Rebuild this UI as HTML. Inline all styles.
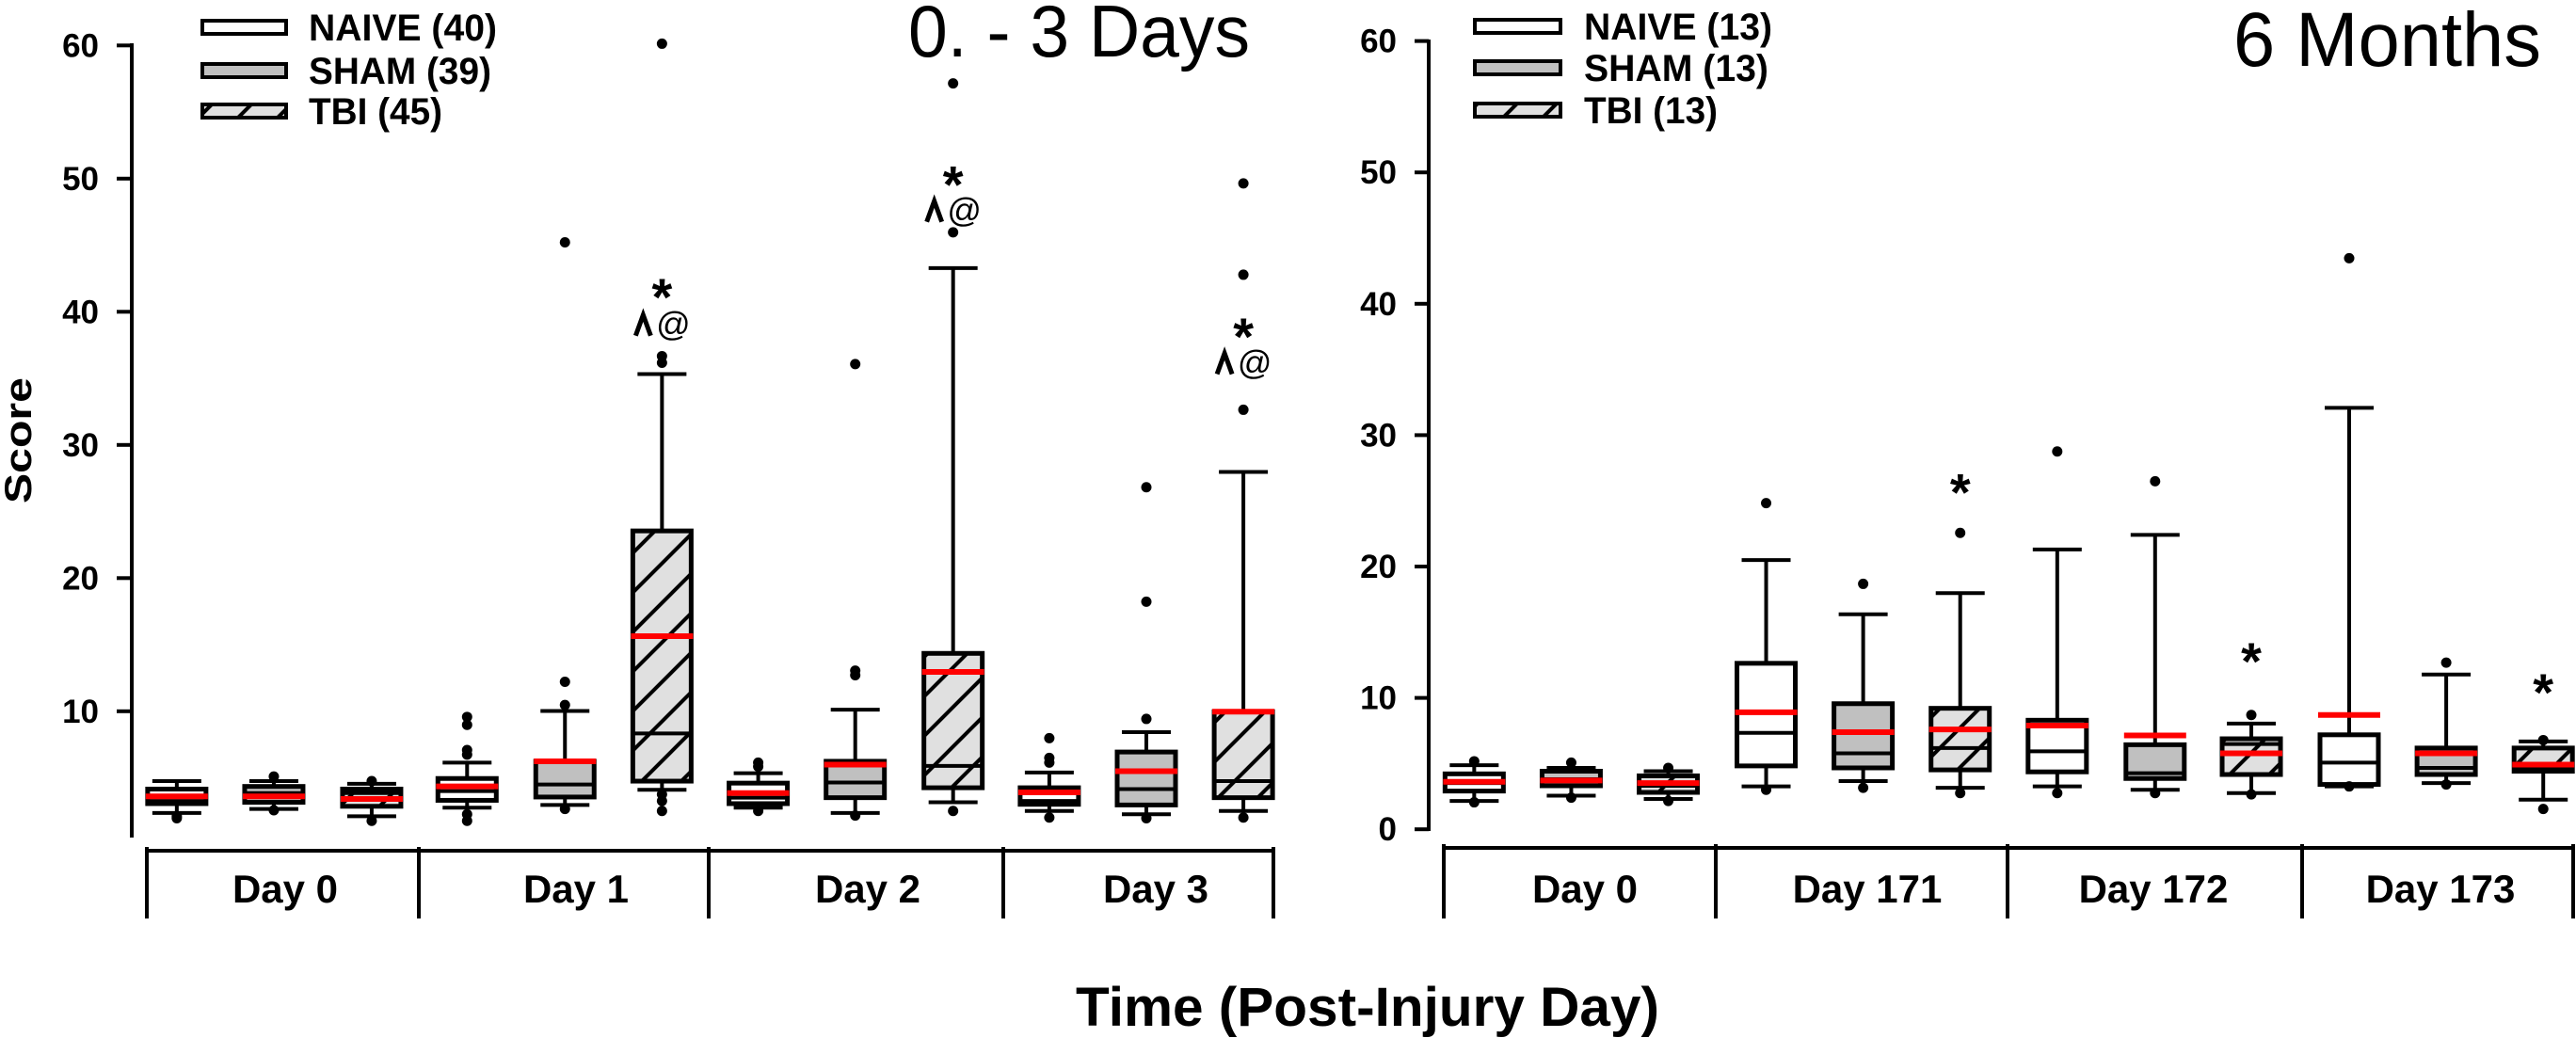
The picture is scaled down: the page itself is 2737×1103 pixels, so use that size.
<!DOCTYPE html>
<html><head><meta charset="utf-8"><style>html,body{margin:0;padding:0;background:#fff}svg{display:block}</style></head>
<body>
<svg id="s" xmlns="http://www.w3.org/2000/svg" width="2737" height="1103" viewBox="0 0 2737 1103">
<defs>
<pattern id="h" patternUnits="userSpaceOnUse" width="42" height="42" patternTransform="rotate(0)">
<rect width="42" height="42" fill="#e0e0e0"/>
<path d="M-5,47 L47,-5" stroke="#000" stroke-width="4"/>
<path d="M-26,26 L26,-26 M16,68 L68,16" stroke="#000" stroke-width="4"/>
</pattern>
</defs>
</svg>
<script>
const S=document.getElementById('s');const NS='http://www.w3.org/2000/svg';
function el(t,a,txt){const e=document.createElementNS(NS,t);for(const k in a)e.setAttribute(k,a[k]);if(txt!=null)e.textContent=txt;S.appendChild(e);return e;}
const HF=1.1445,VF=1.4216;
const F='Liberation Sans, Arial, sans-serif';
function yL(v){return 48.3+(60-v)*14.15;}
el('line',{x1:140,y1:46,x2:140,y2:890,stroke:'#000','stroke-width':4});
for(let v=10;v<=60;v+=10){const y=yL(v);el('line',{x1:124,y1:y,x2:140,y2:y,stroke:'#000','stroke-width':4});
el('text',{x:105,y:y+12,'font-family':F,'font-size':35,'font-weight':'bold','text-anchor':'end'},String(v));}
function yR(v){return 43.6+(60-v)*13.96;}
el('line',{x1:1518,y1:42,x2:1518,y2:883,stroke:'#000','stroke-width':4});
for(let v=0;v<=60;v+=10){const y=yR(v);el('line',{x1:1503,y1:y,x2:1518,y2:y,stroke:'#000','stroke-width':4});
el('text',{x:1484,y:y+12,'font-family':F,'font-size':35,'font-weight':'bold','text-anchor':'end'},String(v));}
function cat(y,x0,x1,divs,labels,centers){
 el('line',{x1:x0,y1:y,x2:x1,y2:y,stroke:'#000','stroke-width':4});
 [x0,...divs,x1].forEach(x=>el('line',{x1:x,y1:y-4,x2:x,y2:976,stroke:'#000','stroke-width':4}));
 labels.forEach((l,i)=>el('text',{x:centers[i],y:959,'font-family':F,'font-size':42,'font-weight':'bold','text-anchor':'middle'},l));
}
cat(904,156,1353,[445,753,1066],['Day 0','Day 1','Day 2','Day 3'],[303,612,922,1228]);
cat(901,1534,2734,[1823,2133,2446],['Day 0','Day 171','Day 172','Day 173'],[1684,1984,2288,2593]);
const L=[
[215,1180,1192,1210,1203,1214,1228,[1233,1236],0],
[333,1180,1188,1198,1203,1212,1222,[1173,1224],1],
[452,1184,1192,1198,1207,1218,1233,[1180,1240],2],
[568,1152,1176,1195,1188,1209,1220,[1083,1095,1133,1140,1230,1240],0],
[687,1074,1150,1185,1150,1204,1216,[366,1030,1065,1222],1],
[805,565,802,1108,961,1180,1193,[66,538,548,1200,1210,1225],2],
[922,1168,1183,1205,1198,1214,1220,[1152,1158,1225],0],
[1040,1072,1150,1182,1155,1205,1228,[550,1013,1020,1232],1],
[1159,405,987,1157,1015,1190,1212,[126,351,1225],2],
[1276,1167,1190,1210,1197,1215,1225,[1115,1145,1152,1235],0],
[1394,1106,1136,1192,1165,1216,1230,[736,909,1086,1236],1],
[1512,713,1075,1180,1075,1205,1225,[277,415,619,1235],2]];
const R=[
[227,1156,1169,1183,1181,1195,1210,[1150,1212],0],
[345,1160,1165,1177,1179,1187,1202,[1152,1205],1],
[463,1165,1172,1187,1183,1197,1207,[1160,1210],2],
[582,846,1002,1107,1076,1157,1188,[760,1193],0],
[700,928,1063,1138,1106,1160,1180,[882,1190],1],
[818,896,1070,1130,1102,1163,1190,[805,1198],2],
[936,830,1088,1135,1096,1166,1188,[682,1198],0],
[1055,808,1125,1168,1111,1176,1193,[727,1198],1],
[1172,1093,1116,1124,1138,1170,1198,[1080,1200],2],
[1291,616,1110,1152,1080,1185,1188,[390,1188],0],
[1409,1019,1130,1160,1138,1170,1183,[1001,1185],1],
[1527,1120,1130,1160,1155,1165,1208,[1118,1222],2]];
const fills=['#fff','#c0c0c0','url(#h)'];
function draw(b,off){
 const cx=b[0]/HF+off,Y=v=>v/VF;
 const wT=Y(b[1]),bT=Y(b[2]),md=Y(b[3]),rd=Y(b[4]),bB=Y(b[5]),wB=Y(b[6]);
 el('line',{x1:cx,y1:wT,x2:cx,y2:wB,stroke:'#000','stroke-width':4});
 el('line',{x1:cx-26,y1:wT,x2:cx+26,y2:wT,stroke:'#000','stroke-width':4});
 el('line',{x1:cx-26,y1:wB,x2:cx+26,y2:wB,stroke:'#000','stroke-width':4});
 el('rect',{x:cx-31,y:bT,width:62,height:Math.max(bB-bT,2),fill:fills[b[8]],stroke:'#000','stroke-width':5});
 el('line',{x1:cx-31,y1:md,x2:cx+31,y2:md,stroke:'#000','stroke-width':4});
 el('line',{x1:cx-33,y1:rd,x2:cx+33,y2:rd,stroke:'#f00','stroke-width':6});
 b[7].forEach(o=>el('circle',{cx:cx,cy:Y(o),r:5.5,fill:'#000'}));
}
L.forEach(b=>draw(b,0));R.forEach(b=>draw(b,1368));
function ann(x,ys,yc){
 el('text',{x:x,y:ys+22,'font-family':F,'font-size':56,'font-weight':'bold','text-anchor':'middle'},'*');
 if(yc!=null){
 el('path',{d:`M${x-28},${yc+12} L${x-20},${yc-10} L${x-12},${yc+12}`,fill:'none',stroke:'#000','stroke-width':5});
 el('text',{x:x+12,y:yc+12,'font-family':F,'font-size':36,'text-anchor':'middle'},'@');}
}
ann(805/HF,445/VF,490/VF);ann(1159/HF,275/VF,318/VF);ann(1512/HF,505/VF,548/VF);
ann(1368+818/HF,740/VF);ann(1368+1172/HF,995/VF);ann(1368+1527/HF,1042/VF);
function leg(x0,x1,tx,rows,labels,tlen){
 rows.forEach((y,i)=>{el('rect',{x:x0,y:y-7,width:x1-x0,height:14,fill:fills[i],stroke:'#000','stroke-width':4});
 el('text',{x:tx,y:y+14,'font-family':F,'font-size':40,'font-weight':'bold',textLength:tlen[i],lengthAdjust:'spacingAndGlyphs'},labels[i]);});
}
leg(215,304,328,[29,75,118],['NAIVE (40)','SHAM (39)','TBI (45)'],[200,194,142]);
leg(1567,1658,1683,[28,72,117],['NAIVE (13)','SHAM (13)','TBI (13)'],[200,196,142]);
el('text',{x:965,y:60,'font-family':F,'font-size':78,textLength:363,lengthAdjust:'spacingAndGlyphs'},'0. - 3 Days');
el('text',{x:2373,y:70,'font-family':F,'font-size':82,textLength:327,lengthAdjust:'spacingAndGlyphs'},'6 Months');
el('text',{x:0,y:0,transform:'translate(33,468) rotate(-90)','font-family':F,'font-size':40,'font-weight':'bold','text-anchor':'middle',textLength:134,lengthAdjust:'spacingAndGlyphs'},'Score');
el('text',{x:1143,y:1090,'font-family':F,'font-size':58,'font-weight':'bold',textLength:620,lengthAdjust:'spacingAndGlyphs'},'Time (Post-Injury Day)');
</script>
</body></html>
